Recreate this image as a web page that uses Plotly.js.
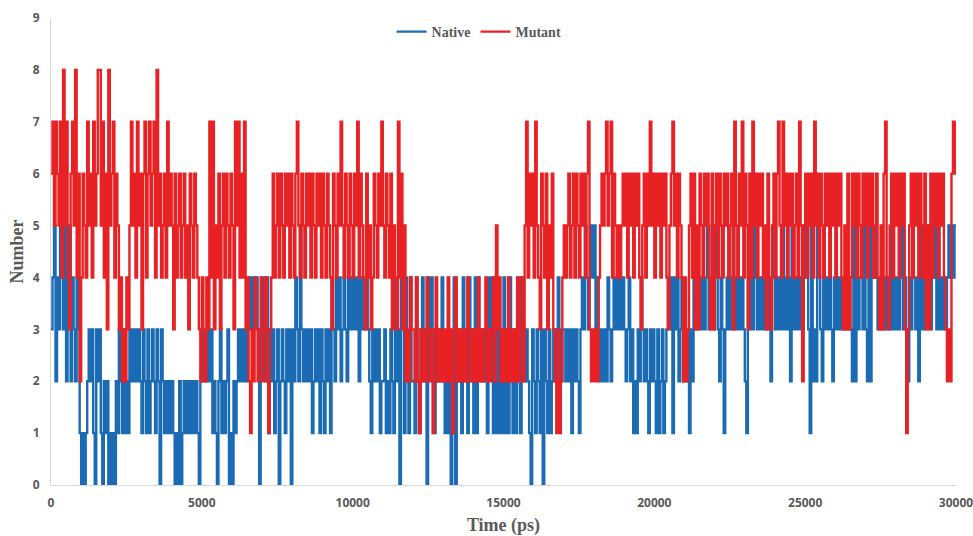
<!DOCTYPE html>
<html>
<head>
<meta charset="utf-8">
<script src="https://cdn.plot.ly/plotly-3.0.1.min.js"></script>
<style>
html, body { margin: 0; padding: 0; background: #ffffff; }
#chart { width: 973px; height: 536px; }
</style>
</head>
<body>
<div id="chart"></div>
<script>
const timeStepPs = 50;

// Native: number per frame, 0 - 4950 ps
const native_0_5k = [
  3,4,5,2,4,3,5,4,3,5,2,4,5,2,4,3,2,4,3,1,
  0,1,0,1,2,3,2,3,1,0,3,2,3,1,0,2,1,2,0,1,
  0,1,0,2,1,3,2,1,3,1,2,1,3,2,3,2,3,2,3,2,
  1,3,2,1,3,1,2,3,2,1,3,2,0,3,2,1,2,1,2,1,
  2,1,0,1,0,2,0,1,2,1,2,1,2,1,2,1,2,1,0,2
];
// Native: 5000 - 9950 ps
const native_5_10k = [
  3,2,3,2,3,2,3,1,2,1,0,2,3,1,2,1,2,3,0,1,
  0,2,1,2,3,2,3,2,3,2,4,3,4,3,4,3,4,3,0,3,
  4,3,2,4,1,3,2,3,1,2,3,0,2,3,2,1,3,2,3,0,
  3,2,4,3,2,5,3,2,3,2,3,2,3,1,2,3,2,3,1,3,
  2,1,3,2,3,1,4,3,2,4,3,4,2,3,4,3,2,4,3,4
];
// Native: 10000 - 14950 ps
const native_10_15k = [
  3,4,3,4,2,4,3,4,3,4,3,2,1,3,2,3,2,3,1,2,
  2,3,1,2,1,3,2,1,4,2,3,0,4,3,1,4,2,1,4,2,
  2,1,4,2,1,3,4,2,3,0,4,3,4,2,1,3,2,3,2,4,
  2,1,2,1,2,0,1,4,0,2,3,2,1,4,3,2,1,4,2,3,
  1,4,1,4,3,2,3,2,3,1,4,3,4,1,4,1,4,1,3,1
];
// Native: 15000 - 19950 ps
const native_15_20k = [
  4,1,3,1,4,2,1,3,1,2,4,1,4,3,2,3,2,1,0,3,
  2,1,3,2,1,3,0,3,2,1,3,1,2,3,2,3,4,3,2,3,
  3,2,3,2,3,1,3,2,3,2,1,3,4,3,5,4,3,4,5,4,
  5,3,4,3,2,3,2,3,2,4,3,2,3,4,3,4,3,4,3,4,
  3,2,3,4,2,3,1,2,1,3,2,4,3,2,3,2,1,3,2,3
];
// Native: 20000 - 24950 ps
const native_20_25k = [
  2,1,3,1,2,3,1,2,3,4,3,4,1,4,3,4,2,3,4,2,
  3,2,3,1,3,2,4,3,4,3,4,3,4,3,4,5,3,4,5,3,
  4,5,3,2,4,3,1,3,4,3,4,3,5,3,4,3,4,3,4,3,
  2,1,5,3,4,3,5,4,3,4,3,4,3,4,3,4,3,2,4,5,
  3,4,3,4,3,5,3,4,3,4,2,5,3,4,3,4,3,4,3,5
];
// Native: 25000 - 30000 ps
const native_25_30k = [
  4,5,3,1,5,2,3,2,5,4,3,2,4,3,4,3,4,3,2,4,
  3,4,3,4,3,4,3,4,3,4,3,2,5,2,4,3,4,5,3,5,
  3,2,5,2,5,4,5,4,3,4,3,4,3,4,3,4,3,5,3,4,
  3,4,3,4,5,3,4,3,2,4,3,5,4,3,4,2,5,3,4,3,
  4,5,4,3,5,4,5,3,5,3,4,3,4,3,4,5,4,5,4,5,
  5
];

// Mutant: 0 - 4950 ps
const mutant_0_5k = [
  6,7,5,7,6,5,7,4,8,5,7,4,3,6,7,5,8,4,6,2,
  4,6,5,4,7,5,6,4,7,5,6,8,8,5,7,4,6,3,8,5,
  6,7,4,6,5,3,4,2,3,2,4,3,5,7,5,6,4,7,5,6,
  3,6,7,4,6,7,5,6,7,4,8,5,6,4,5,6,4,7,5,6,
  5,3,6,4,5,6,4,5,6,4,5,3,6,5,4,6,5,4,3,2
];
// Mutant: 5000 - 9950 ps
const mutant_5_10k = [
  4,3,2,4,3,7,4,7,3,5,4,6,3,5,6,4,6,5,4,6,
  5,3,7,5,7,4,6,4,7,3,4,2,1,3,2,4,3,2,3,4,
  2,3,4,2,1,3,4,6,4,5,6,4,6,5,4,6,5,6,4,6,
  5,4,6,7,5,4,6,5,4,6,5,6,4,6,5,4,6,5,6,4,
  6,5,4,6,5,4,3,6,5,4,6,5,7,5,4,6,5,4,6,5
];
// Mutant: 10000 - 14950 ps
const mutant_10_15k = [
  4,6,5,7,4,6,5,4,3,6,4,5,3,4,6,5,4,6,5,7,
  5,4,6,5,4,6,3,5,4,3,7,4,6,3,5,2,3,2,4,3,
  3,2,4,2,1,3,2,3,2,4,3,2,3,1,3,4,2,3,2,3,
  2,3,2,4,2,3,1,3,4,2,3,2,3,2,3,2,4,3,2,3,
  2,3,2,4,2,3,2,3,4,2,3,2,3,4,2,5,3,4,2,3
];
// Mutant: 15000 - 19950 ps
const mutant_15_20k = [
  2,3,2,4,2,3,2,3,2,4,2,3,4,2,5,7,4,6,5,6,
  4,7,5,4,3,6,5,4,6,3,5,4,6,3,2,1,3,1,2,4,
  5,4,5,6,4,5,6,4,6,5,4,6,5,6,4,6,7,3,2,3,
  2,3,2,4,5,6,5,6,7,5,6,7,4,6,5,4,5,4,5,6,
  5,6,4,6,5,6,4,6,5,6,4,3,5,6,4,6,5,7,5,6
];
// Mutant: 20000 - 24950 ps
const mutant_20_25k = [
  4,6,5,6,4,6,5,6,4,3,5,6,7,5,6,4,6,5,4,2,
  4,2,3,5,6,4,6,3,5,3,6,5,4,6,5,6,4,3,6,3,
  5,6,4,6,5,4,6,5,6,4,5,6,3,7,5,4,6,5,7,4,
  6,5,3,6,4,7,5,6,4,6,5,6,4,5,3,6,4,3,5,6,
  4,6,7,5,4,7,5,6,4,6,5,6,4,5,6,4,7,5,2,5
];
// Mutant: 25000 - 30000 ps
const mutant_25_30k = [
  6,4,6,5,6,4,7,5,6,4,6,5,4,6,5,6,4,6,5,6,
  4,6,5,6,4,3,5,3,6,3,4,6,5,6,4,6,5,4,6,5,
  6,4,6,5,6,4,5,6,4,3,5,3,6,7,4,3,5,6,4,6,
  5,6,4,6,5,6,3,1,3,5,6,4,6,5,6,4,6,5,4,6,
  3,5,3,6,4,6,5,6,4,6,5,6,4,3,2,3,2,6,7,6,
  7
];

const seriesNames = ["Native", "Mutant"];
const xTickVals = [0, 5000, 10000, 15000, 20000, 25000, 30000];
const yTickVals = [0, 1, 2, 3, 4, 5, 6, 7, 8, 9];

const nativeValues = [].concat(native_0_5k, native_5_10k, native_10_15k, native_15_20k, native_20_25k, native_25_30k);
const mutantValues = [].concat(mutant_0_5k, mutant_5_10k, mutant_10_15k, mutant_15_20k, mutant_20_25k, mutant_25_30k);
const timeNative = nativeValues.map((_, i) => i * timeStepPs);
const timeMutant = mutantValues.map((_, i) => i * timeStepPs);

const tickFont = { family: "Open Sans, Liberation Sans, sans-serif", size: 12, color: "#595959", weight: "bold" };
const titleFont = { family: "Liberation Serif, Times New Roman, serif", size: 18, color: "#595959", weight: "bold" };

const traces = [
  {
    x: timeNative, y: nativeValues, name: seriesNames[0],
    type: "scatter", mode: "lines",
    line: { color: "#1a6bb4", width: 2.4, shape: "hv", simplify: false }
  },
  {
    x: timeMutant, y: mutantValues, name: seriesNames[1],
    type: "scatter", mode: "lines",
    line: { color: "#e82124", width: 2.4, shape: "hv", simplify: false }
  }
];

const layout = {
  width: 973, height: 536,
  margin: { l: 51, r: 17, t: 18, b: 51 },
  paper_bgcolor: "#ffffff", plot_bgcolor: "#ffffff",
  showlegend: true,
  legend: {
    orientation: "h", x: 0.473, xanchor: "center", y: 0.97, yanchor: "middle",
    font: { family: "Liberation Serif, Times New Roman, serif", size: 14, color: "#595959", weight: "bold" },
    bgcolor: "rgba(0,0,0,0)", itemwidth: 30, tracegroupgap: 0
  },
  xaxis: {
    range: [0, 30000], tickvals: xTickVals, ticktext: xTickVals.map(String),
    showgrid: false, zeroline: false, showline: true, linecolor: "#d9d9d9", linewidth: 1,
    ticks: "", tickfont: tickFont, ticklabelstandoff: 7, ticklabeloverflow: "allow",
    title: { text: "Time (ps)", font: titleFont, standoff: 8 }
  },
  yaxis: {
    range: [0, 9], tickvals: yTickVals, ticktext: yTickVals.map(String),
    showgrid: false, zeroline: false, showline: true, linecolor: "#d9d9d9", linewidth: 1,
    ticks: "", tickfont: tickFont, ticklabelstandoff: 8, ticklabeloverflow: "allow",
    title: { text: "Number", font: titleFont, standoff: 4 }
  },
  font: { family: "Open Sans, sans-serif", color: "#595959" }
};

Plotly.newPlot("chart", traces, layout, { displayModeBar: false, staticPlot: true });
</script>
</body>
</html>
